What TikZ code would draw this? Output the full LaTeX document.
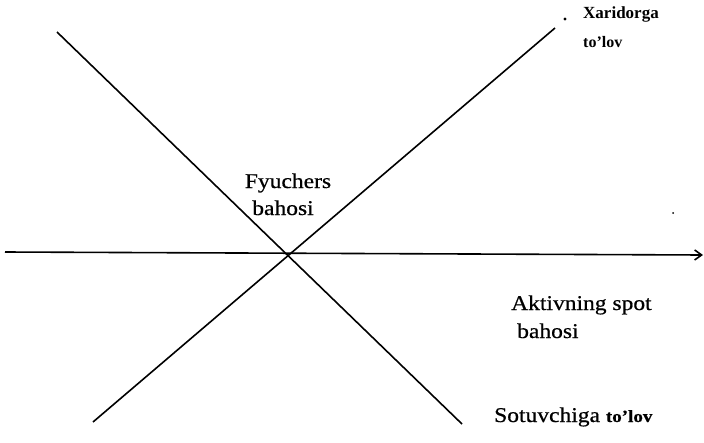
\documentclass[tikz,border=0pt]{standalone}
\usepackage{fontspec}
\setmainfont{Liberation Serif}
\newfontfamily\scanfont[FakeStretch=1.12, FakeBold=0.6]{Liberation Serif}
\usetikzlibrary{arrows.meta}

\begin{document}
\begin{tikzpicture}[x=1pt,y=-1pt,
    payoff/.style ={line width=1.6pt},
    annotation/.style ={inner sep=0pt, anchor=base west, font=\scanfont\fontsize{21}{24}\selectfont}]
   \useasboundingbox (0,0) rectangle (704,442);

   \coordinate (O)  at (292,253);
   \coordinate (A)  at (57,32);
   \coordinate (B)  at (462,424);
   \coordinate (C)  at (555,28);
   \coordinate (D)  at (93,422);
   \coordinate (L)  at (5,252);
   \coordinate (R)  at (703,255);

   \draw[payoff] (A) to (B);
   \draw[payoff] (C) to (D);
   \draw[payoff, -{Straight Barb[length=7pt,width=10pt]}] (L) to (R);

   \fill (565,19) circle (1.7pt);
   \fill (673,213) circle (1pt);

   \node[annotation, font=\bfseries\fontsize{17}{19}\selectfont] (xar) at (583,18) {Xaridorga};
   \node[annotation, font=\bfseries\fontsize{16}{19}\selectfont] (xto) at (583,47) {to’lov};
   \node[annotation, anchor=base] (fyu) at (288,188) {Fyuchers};
   \node[annotation, anchor=base] (fba) at (283,215) {bahosi};
   \node[annotation] (akt) at (511,310) {Aktivning spot};
   \node[annotation] (aba) at (517,338) {bahosi};
   \node[annotation] (sot) at (494,422) {Sotuvchiga {\bfseries\fontsize{17}{19}\selectfont to’lov}};

 \end{tikzpicture}
\end{document}
